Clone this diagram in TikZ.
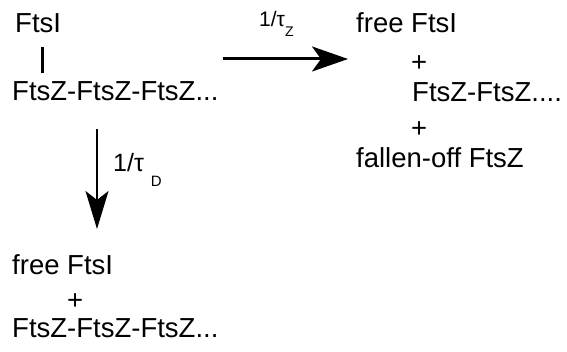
\documentclass[tikz,border=0pt]{standalone}
\usepackage{fontspec}
\setmainfont{Liberation Sans}
\usetikzlibrary{arrows.meta}
\begin{document}
\begin{tikzpicture}[x=1pt,y=-1pt,
  txt/.style={anchor=base west,inner sep=0pt,font=\fontsize{27.5}{32}\selectfont},
  arr/.style={line width=3pt,-{Stealth[length=36pt,width=25pt,inset=9pt]}}]
\useasboundingbox (0,0) rectangle (567,352);
% left complex
\node[txt] (ftsi) at (15,33) {FtsI};
\node[txt] (chain) at (12,101) {FtsZ-FtsZ-FtsZ...};
\coordinate (bartop) at (42,47);
\coordinate (barbot) at (42,73);
\draw[line width=3pt] (bartop) -- (barbot);
% horizontal reaction
\coordinate (hs) at (223,59);
\coordinate (he) at (348,59);
\draw[arr] (hs) -- (he);
\node[anchor=base west,inner sep=0pt,font=\fontsize{21}{25}\selectfont] (rz) at (259,27)
  {1/τ\raisebox{-10pt}{\fontsize{14}{16}\selectfont Z}};
% right products
\node[txt] (rfree) at (356,33) {free FtsI};
\node[txt] (rplus1) at (411,71.5) {+};
\node[txt] (rchain) at (412,102) {FtsZ-FtsZ....};
\node[txt] (rplus2) at (411,137.5) {+};
\node[txt] (rfall) at (356,168) {fallen-off FtsZ};
% vertical reaction
\coordinate (vs) at (97,129);
\coordinate (ve) at (97,229);
\draw[line width=2pt,-{Stealth[length=38pt,width=23pt,inset=9pt]}] (vs) -- (ve);
\node[anchor=base west,inner sep=0pt,font=\fontsize{25}{29}\selectfont] (rd) at (113,172)
  {1/τ\hspace{7pt}\raisebox{-15pt}{\fontsize{15}{17}\selectfont D}};
% bottom products
\node[txt] (bfree) at (12,275) {free FtsI};
\node[txt] (bplus) at (67,309) {+};
\node[txt] (bchain) at (12,337) {FtsZ-FtsZ-FtsZ...};
\end{tikzpicture}
\end{document}
